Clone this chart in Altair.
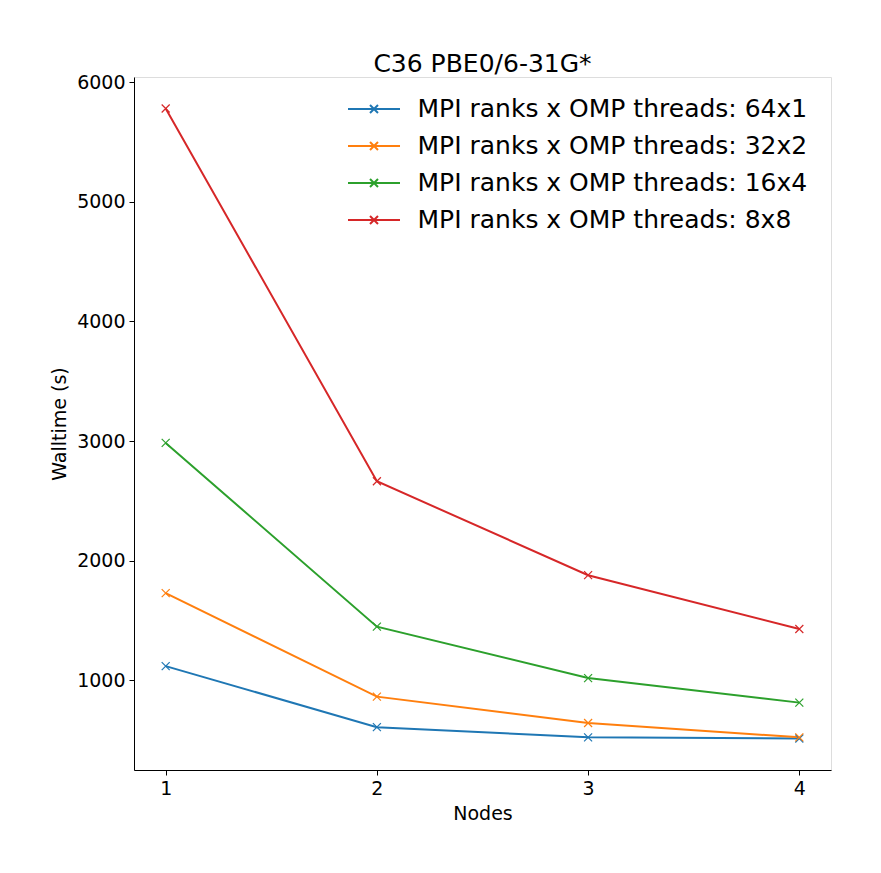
import altair as alt
import pandas as pd

nodes = [1, 2, 3, 4]
series_names = [
    "MPI ranks x OMP threads: 64x1",
    "MPI ranks x OMP threads: 32x2",
    "MPI ranks x OMP threads: 16x4",
    "MPI ranks x OMP threads: 8x8",
]
t_64x1 = [1120, 610, 525, 515]
t_32x2 = [1730, 865, 645, 525]
t_16x4 = [2985, 1450, 1020, 815]
t_8x8 = [5780, 2665, 1880, 1430]
colors = ["#1f77b4", "#ff7f0e", "#2ca02c", "#d62728"]
x_ticks = [1, 2, 3, 4]
y_ticks = [1000, 2000, 3000, 4000, 5000, 6000]

rows = []
for name, vals in zip(series_names, [t_64x1, t_32x2, t_16x4, t_8x8]):
    for n, v in zip(nodes, vals):
        rows.append({"Nodes": n, "Walltime": v, "Series": name})
df = pd.DataFrame(rows)

FONT = "DejaVu Sans"
xmark = "M-1,-1L1,1M-1,1L1,-1"
legend_sym = "M-1.405,0L1.405,0M-0.216,-0.216L0.216,0.216M-0.216,0.216L0.216,-0.216"

xenc = alt.X(
    "Nodes:Q",
    scale=alt.Scale(domain=[0.85, 4.15], nice=False, zero=False),
    axis=alt.Axis(
        values=x_ticks, format="d", title="Nodes", grid=False,
        tickColor="black", domainColor="black", tickSize=5,
        labelFontSize=19, titleFontSize=19, labelFont=FONT, titleFont=FONT,
        titleFontWeight="normal", labelColor="black", titleColor="black",
        labelPadding=4, titlePadding=6,
    ),
)
yenc = alt.Y(
    "Walltime:Q",
    scale=alt.Scale(domain=[252, 6043], nice=False, zero=False),
    axis=alt.Axis(
        values=y_ticks, format="d", title="Walltime (s)", grid=False,
        tickColor="black", domainColor="black", tickSize=5,
        labelFontSize=19, titleFontSize=19, labelFont=FONT, titleFont=FONT,
        titleFontWeight="normal", labelColor="black", titleColor="black",
        labelPadding=4, titlePadding=7,
    ),
)
color = alt.Color(
    "Series:N",
    scale=alt.Scale(domain=series_names, range=colors),
    sort=series_names,
    legend=alt.Legend(
        title=None, orient="none", legendX=220.5, legendY=12.5,
        symbolType=legend_sym, symbolSize=1369, symbolStrokeWidth=2,
        symbolFillColor="transparent",
        labelFontSize=25, labelFont=FONT, labelColor="black",
        labelOffset=24, rowPadding=4, padding=0, labelLimit=600,
    ),
)

lines = alt.Chart(df).mark_line(strokeWidth=2).encode(
    x=xenc, y=yenc, color=color, order=alt.Order("Nodes:Q")
)
points = alt.Chart(df).mark_point(
    shape=xmark, size=64, filled=False, strokeWidth=1.2, opacity=1
).encode(x=xenc, y=yenc, color=alt.Color("Series:N", scale=alt.Scale(domain=series_names, range=colors), legend=None))

chart = (
    alt.layer(lines, points)
    .properties(
        width=697, height=693,
        title=alt.TitleParams("C36 PBE0/6-31G*", fontSize=25, font=FONT,
                              fontWeight="normal", color="black", offset=-4),
        autosize=alt.AutoSizeParams(type="none"),
        padding={"left": 126, "top": 69, "right": 42, "bottom": 95},
    )
    .configure_view(stroke="black", strokeWidth=1)
    .configure(background="white")
)

chart.save("out.html", embed_options={"renderer": "svg", "actions": False})
